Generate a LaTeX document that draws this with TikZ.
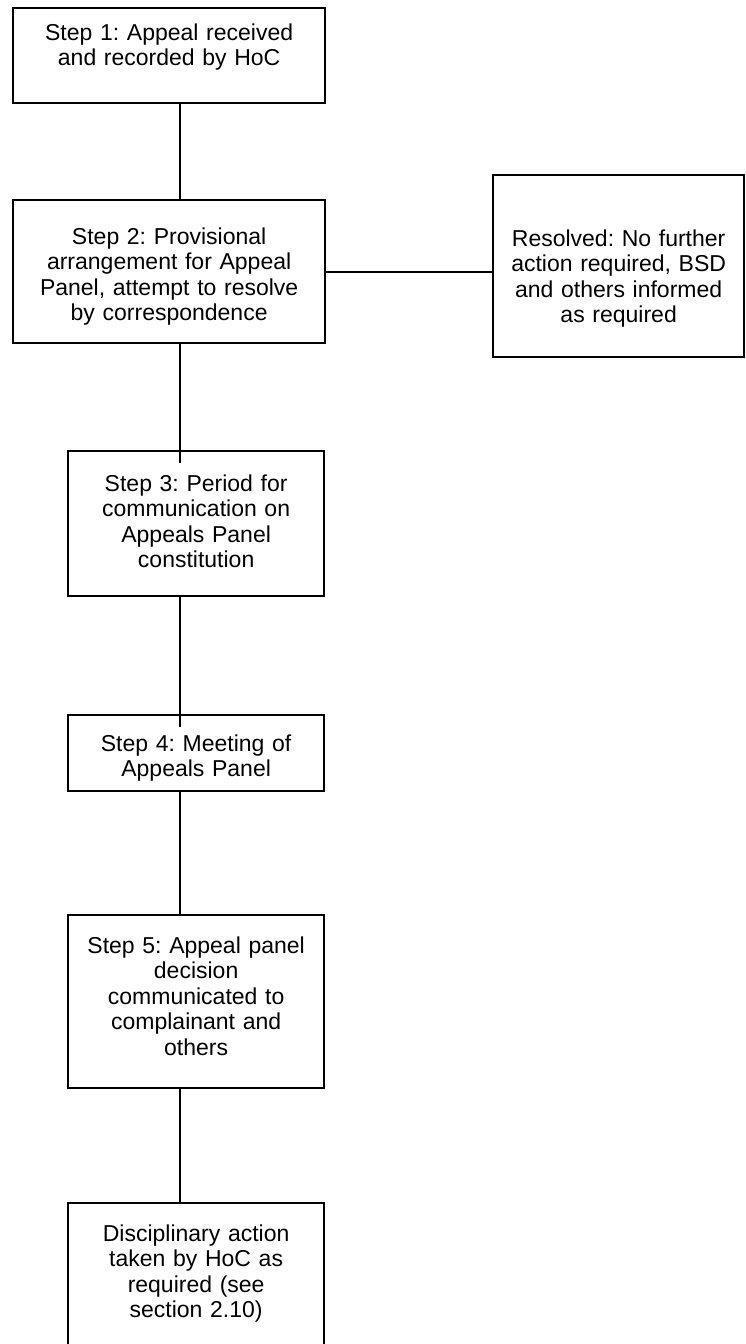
\documentclass[tikz,border=0pt]{standalone}
\usepackage{fontspec}
\setmainfont{Liberation Sans}
\frenchspacing
\usetikzlibrary{positioning}

\begin{document}
\begin{tikzpicture}[
    x=1pt, y=1pt,
    box/.style={rectangle, draw=black, line width=2.3pt, inner sep=0pt, anchor=north west,
                align=center, font=\fontsize{23}{25.5}\selectfont},
    link/.style={line width=1.7pt}
]
\useasboundingbox (0,0) rectangle (745,-1344);
\coordinate (spine) at (180,0);
\node[box, text width=312pt, text height=32pt, text depth=63pt] (s1) at (12,-7) {Step 1: Appeal received\\and recorded by HoC};
\node[box, text width=312pt, text height=44pt, text depth=99pt] (s2) at (12,-199) {Step 2: Provisional\\arrangement for Appeal\\Panel, attempt to resolve\\by correspondence};
\node[box, text width=251pt, text height=71pt, text depth=111pt] (res) at (492,-174) {Resolved: No further\\action required, BSD\\and others informed\\as required};
\node[box, text width=256pt, text height=40pt, text depth=105pt] (s3) at (67,-450) {Step 3: Period for\\communication on\\Appeals Panel\\constitution};
\node[box, text width=256pt, text height=36pt, text depth=40pt] (s4) at (67,-714) {Step 4: Meeting of\\Appeals Panel};
\node[box, text width=256pt, text height=38pt, text depth=135pt] (s5) at (67,-914) {Step 5: Appeal panel\\decision\\communicated to\\complainant and\\others};
\node[box, text width=256pt, text height=38pt, text depth=110pt] (s6) at (67,-1202) {Disciplinary action\\taken by HoC as\\required (see\\section 2.10)};
\draw[link] (s1.south -| spine) -- (s2.north -| spine);
\draw[link] (s2.east) -- (s2.east -| res.west);
\draw[link] (s2.south -| spine) -- (s3.north -| spine) -- ++(0,-13);
\draw[link] (s3.south -| spine) -- (s4.north -| spine) -- ++(0,-13);
\draw[link] (s4.south -| spine) -- (s5.north -| spine);
\draw[link] (s5.south -| spine) -- (s6.north -| spine);
\end{tikzpicture}
\end{document}
